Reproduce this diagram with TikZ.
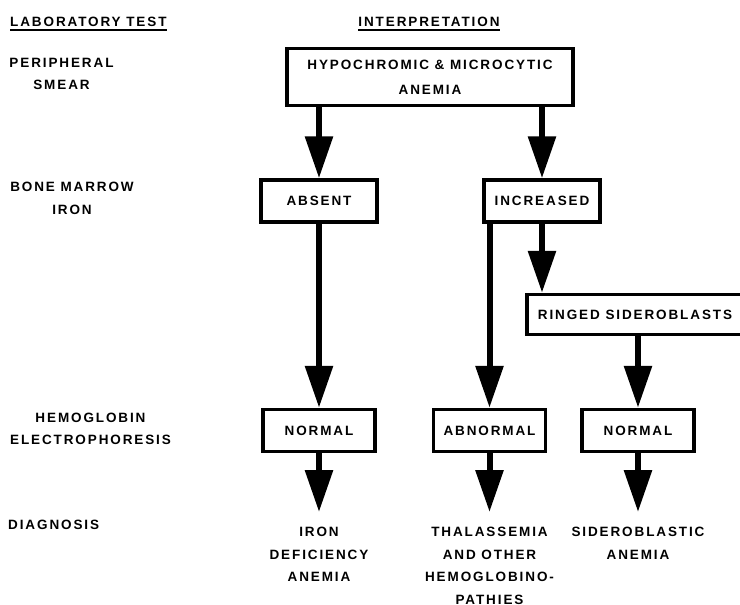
\documentclass[tikz,border=0pt]{standalone}
\usepackage{fontspec}
\newfontfamily\labfont[LetterSpace=14]{Liberation Sans}
\usetikzlibrary{arrows.meta,positioning}

\begin{document}
\begin{tikzpicture}[x=1pt,y=-1pt,
    font=\labfont\bfseries\fontsize{13.5}{22.5}\selectfont,
    box/.style={draw,line width=3.5pt,align=center,minimum width=112pt,minimum height=42pt},
    lbl/.style={align=center,inner sep=0pt},
    arr/.style={line width=6pt,-{Triangle[length=42pt,width=27pt]}}]
    \useasboundingbox (0,0) rectangle (740,605);

    % column headings
    \node[lbl,anchor=base west] (hlab) at (10,27) {LABORATORY TEST};
    \node[lbl,anchor=base] (hint) at (429,27) {INTERPRETATION};
    \draw[line width=1.5pt] ([yshift=-3pt]hlab.base west) -- ([yshift=-3pt]hlab.base east);
    \draw[line width=1.5pt] ([yshift=-3pt]hint.base west) -- ([yshift=-3pt]hint.base east);

    % tests
    \node[lbl] (smear) at (61.5,74) {PERIPHERAL\\SMEAR};
    \node[lbl] (marrow) at (72,198.5) {BONE MARROW\\IRON};
    \node[lbl] (electro) at (90.5,429) {HEMOGLOBIN\\ELECTROPHORESIS};
    \node[lbl,anchor=west] (diag) at (8,525) {DIAGNOSIS};

    % interpretation
    \node[box,minimum width=286pt,minimum height=57pt] (hypo) at (430,77) {HYPOCHROMIC \& MICROCYTIC\\[2.5pt]ANEMIA};
    \node[box,minimum width=116pt] (absent) at (319,201) {ABSENT};
    \node[box,minimum width=116pt] (incr) at (542,201) {INCREASED};
    \node[box,minimum width=216pt,minimum height=40pt] (ringed) at (635,314.5) {RINGED SIDEROBLASTS};
    \node[box] (norm1) at (319,430.5) {NORMAL};
    \node[box] (abnorm) at (489.5,430.5) {ABNORMAL};
    \node[box] (norm2) at (638,430.5) {NORMAL};

    % diagnoses
    \node[lbl,anchor=north] (iron) at (319,527) {IRON\\DEFICIENCY\\ANEMIA};
    \node[lbl,anchor=north] (thal) at (489.5,527) {THALASSEMIA\\AND OTHER\\HEMOGLOBINO-\\PATHIES};
    \node[lbl,anchor=north] (sidero) at (638,527) {SIDEROBLASTIC\\ANEMIA};

    \draw[arr] (absent |- hypo.south) -- (absent.north);
    \draw[arr] (incr |- hypo.south) -- (incr.north);
    \draw[arr] (absent.south) -- (norm1.north);
    \draw[arr] (incr.south -| abnorm) -- (abnorm.north);
    \draw[arr] (incr.south) -- (ringed.north -| incr);
    \draw[arr] (ringed.south -| norm2) -- (norm2.north);
    \draw[arr,shorten >=15pt] (norm1.south) -- (iron.north);
    \draw[arr,shorten >=15pt] (abnorm.south) -- (thal.north);
    \draw[arr,shorten >=15pt] (norm2.south) -- (sidero.north);
\end{tikzpicture}
\end{document}
